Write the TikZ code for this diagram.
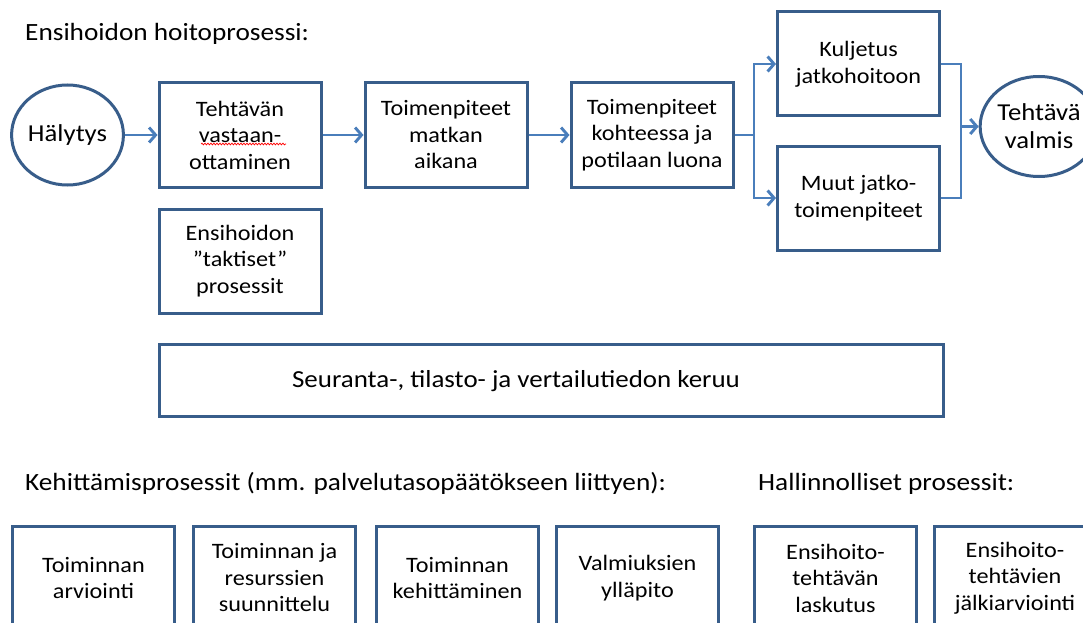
\documentclass[tikz,border=0pt]{standalone}
\usepackage{fontspec}
\setmainfont{Carlito}[FakeStretch=1.1]
\usetikzlibrary{arrows.meta,shapes.geometric,decorations.pathmorphing}
\definecolor{boxblue}{RGB}{56,93,138}
\definecolor{arrowblue}{RGB}{74,126,187}
\newcommand{\boxfont}{\fontsize{22}{26.5}\selectfont}
\newcommand{\bigboxfont}{\fontsize{24.3}{28}\selectfont}
\newcommand{\headfont}{\fontsize{24.8}{29}\selectfont}
\tikzset{
  box/.style={draw=boxblue, line width=3pt, minimum width=162pt, minimum height=104pt,
    inner sep=0pt, align=center, font=\boxfont, text=black},
  oval/.style={ellipse, draw=boxblue, line width=3pt, minimum width=110pt, minimum height=100pt,
    inner sep=0pt, align=center, font=\bigboxfont, text=black},
  head/.style={anchor=base west, inner sep=0pt, font=\headfont, text=black},
  conn/.style={draw=arrowblue, line width=2.9pt},
  arr/.style={conn, -{Straight Barb[length=6.5pt,width=15pt]}},
}
\begin{document}
\begin{tikzpicture}[x=1pt,y=-1pt]
\useasboundingbox (0,0) rectangle (1083,623);
\clip (0,0) rectangle (1083,623);
\fill[white] (0,0) rectangle (1083,623);

\node[head] (t1) at (25,41) {Ensihoidon hoitoprosessi:};

\node[oval] (hal) at (67.5,135) {Hälytys};
\node[box] (b1) at (240,135) {Tehtävän\\vastaan-\\ottaminen};
\node[box] (b2) at (446,135) {Toimenpiteet\\matkan\\aikana};
\node[box] (b3) at (652,135) {Toimenpiteet\\kohteessa ja\\potilaan luona};
\node[box] (kul) at (858.5,64) {Kuljetus\\jatkohoitoon};
\node[box] (muut) at (858.5,198) {Muut jatko-\\toimenpiteet};
\node[oval] (valmis) at (1039,126.5) {Tehtävä\\valmis};
\node[box] (takt) at (240,261) {Ensihoidon\\”taktiset”\\prosessit};
\node[box, minimum width=784pt, minimum height=72pt] (seur) at (551,380) {};
\node[font=\fontsize{24.5}{29}\selectfont, text=black, inner sep=0pt] (seurtxt) at (516,381) {Seuranta-, tilasto- ja vertailutiedon keruu};

\coordinate (sq1) at (201,144);
\coordinate (sq2) at (286,144);
\draw[red, line width=0.7pt, decorate, decoration={snake, segment length=3pt, amplitude=0.9pt}] (sq1) -- (sq2);

\draw[arr] (hal) -- (b1);
\draw[arr] (b1) -- (b2);
\draw[arr] (b2) -- (b3);
\coordinate (fork) at (754,135);
\draw[conn] (b3.east) -- (fork);
\draw[arr] (fork) |- (kul);
\draw[arr] (fork) |- (muut);
\coordinate (join) at (961,126.5);
\draw[conn] (kul.east) -| (join);
\draw[conn] (muut.east) -| (join);
\draw[arr] (join) -- (valmis);

\node[head] (t2) at (25,490) {Kehittämisprosessit (mm. palvelutasopäätökseen liittyen):};
\node[head] (t3) at (758,490) {Hallinnolliset prosessit:};

\node[box] (k1) at (93.5,578) {Toiminnan\\arviointi};
\node[box] (k2) at (274.5,578) {Toiminnan ja\\resurssien\\suunnittelu};
\node[box] (k3) at (457.5,578) {Toiminnan\\kehittäminen};
\node[box] (k4) at (637.5,578) {Valmiuksien\\ylläpito};
\node[box] (h1) at (835.5,578) {Ensihoito-\\tehtävän\\laskutus};
\node[box] (h2) at (1015,578) {Ensihoito-\\tehtävien\\jälkiarviointi};
\end{tikzpicture}
\end{document}
